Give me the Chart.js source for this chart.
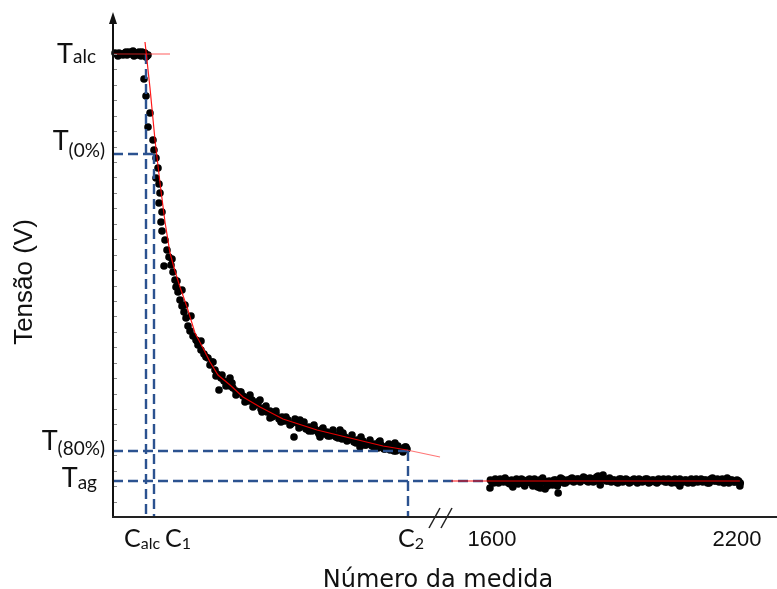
<!DOCTYPE html>
<html>
<head>
<meta charset="utf-8">
<script src="https://cdn.jsdelivr.net/npm/chart.js@4"></script>
<style>
  body { margin: 0; background: #fff; }
  #wrap { width: 777px; height: 589px; position: relative; }
</style>
</head>
<body>
<div id="wrap"><canvas id="tensaoChart"></canvas></div>
<script>
// measurement number (left part, before the axis break) and voltage
const leftX = [4,8,12,16,20,24,28,32,36,40,44,48,52,56,60,64,68,70,66,
  62,66,74,70,80,82,86,90,86,92,94,92,98,96,98,104,108,102,112,116,120,124,126,130,134,138,142,146,150,154,
  160,166,170,176,182,190,194,200,204,208,212,216,222,228,234,240,246,254,260,
  266,272,278,284,290,296,302,308,314,320,326,332,338,344,350,356,362,368,374,380,386,392,398,404,410,
  416,422,428,434,440,446,452,458,464,470,476,482,488,494,500,506,512,518,524,530,536,542,548,554,560,
  566,572,578,584,588,
  294,374,454,534,564,234,274,314,414,494];
const leftY = [4.64,4.63,4.64,4.63,4.62,4.64,4.62,4.65,4.63,4.66,4.64,4.62,4.65,4.61,4.63,4.64,4.61,4.62,4.60,
  4.38,4.21,4.04,3.90,3.77,3.67,3.59,3.49,3.39,3.33,3.24,3.14,3.05,2.95,2.86,2.77,2.67,2.51,2.60,2.52,2.45,2.37,2.30,2.25,2.17,2.11,2.05,1.99,1.91,1.86,
  1.81,1.77,1.72,1.67,1.63,1.59,1.52,1.55,1.47,1.43,1.27,1.39,1.36,1.34,1.31,1.29,1.26,1.25,1.21,
  1.19,1.16,1.17,1.12,1.13,1.08,1.09,1.05,1.06,1.01,1.03,0.98,1.00,0.96,0.97,0.93,0.80,0.94,0.90,0.92,0.88,0.90,0.86,0.88,0.85,
  0.87,0.83,0.85,0.81,0.84,0.80,0.82,0.78,0.80,0.77,0.79,0.75,0.77,0.74,0.76,0.72,0.74,0.71,0.73,0.69,0.72,0.68,0.71,0.67,0.70,
  0.66,0.69,0.67,0.70,0.68,
  1.17,0.97,0.87,0.76,0.74,1.39,1.22,0.99,0.80,0.70];
// second run of readings along the decay (thickens the band)
const leftX2 = [118,128,138,144,156,168,176,186,198,206,218,226,238,246,256,264,272,280,288,298,
  306,318,326,336,346,354,364,372,382,392,402,412,420,430,440,450,460,468,478,486,
  496,504,514,522,532,544,552,562,570,580,586, 10,26,42,58];
const leftY2 = [2.58,2.36,2.27,2.12,2.01,1.76,1.76,1.60,1.55,1.41,1.42,1.31,1.34,1.22,1.25,1.15,1.20,1.10,1.15,1.05,
  1.11,1.00,1.06,0.95,1.00,0.92,0.98,0.89,0.95,0.86,0.92,0.83,0.89,0.81,0.87,0.79,0.84,0.76,0.82,0.74,
  0.80,0.72,0.77,0.70,0.75,0.68,0.73,0.66,0.71,0.65,0.70, 4.61,4.65,4.61,4.65];

// right part, after the break (measures 1600..2200)
const rightX = [1596,1604,1612,1620,1628,1636,1644,1652,1660,1668,1676,1684,1692,1700,1708,1716,1724,1732,1740,1748,
  1756,1764,1772,1780,1788,1796,1804,1812,1820,1828,1836,1844,1852,1860,1868,1876,1884,1892,1900,1908,
  1916,1924,1932,1940,1948,1956,1964,1972,1980,1988,1996,2004,2012,2020,2028,2036,2044,2052,2060,2068,
  2076,2084,2092,2100,2108,2116,2124,2132,2140,2148,2156,2164,2172,2180,2188,2196,2204,
  1595,1651,1700,1718,1730,1762,1865,2060,2207];
const rightY = [0.37,0.34,0.36,0.38,0.35,0.37,0.33,0.36,0.38,0.35,
  0.37,0.34,0.38,0.36,0.33,0.37,0.39,0.35,0.36,0.32,
  0.37,0.35,0.38,0.34,0.36,0.39,0.36,0.38,0.37,0.39,
  0.35,0.38,0.36,0.41,0.38,0.38,0.36,0.35,0.37,0.34,
  0.38,0.36,0.37,0.35,0.38,0.34,0.37,0.36,0.38,0.35,
  0.37,0.34,0.36,0.38,0.35,0.37,0.36,0.34,0.38,0.35,
  0.37,0.36,0.34,0.38,0.36,0.35,0.37,0.34,0.39,0.36,
  0.35,0.38,0.36,0.34,0.37,0.35,0.36,
  0.29,0.30,0.31,0.29,0.28,0.24,0.32,0.31,0.31];
const rightX2 = [1600,1608,1616,1624,1632,1640,1648,1656,1664,1672,1680,1688,1696,1704,1712,1720,1728,1736,1744,1752,
  1760,1768,1776,1784,1792,1800,1808,1816,1824,1832,1840,1848,1856,1864,1872,1880,1888,1896,1904,1912,
  1920,1928,1936,1944,1952,1960,1968,1976,1984,1992,2000,2008,2016,2024,2032,2040,2048,2056,2064,2072,
  2080,2088,2096,2104,2112,2120,2128,2136,2144,2152,2160,2168,2176,2184,2192,2200,2208];
const rightY2 = [0.35,0.38,0.34,0.36,0.39,0.34,0.37,0.35,0.33,0.38,
  0.31,0.37,0.34,0.38,0.30,0.34,0.36,0.31,0.33,0.37,
  0.31,0.39,0.34,0.37,0.38,0.35,0.38,0.35,0.40,0.36,
  0.39,0.35,0.40,0.38,0.42,0.36,0.39,0.37,0.35,0.38,
  0.35,0.38,0.34,0.37,0.36,0.38,0.35,0.38,0.34,0.37,
  0.35,0.38,0.37,0.35,0.38,0.34,0.38,0.37,0.35,0.37,
  0.34,0.38,0.37,0.35,0.38,0.37,0.34,0.38,0.36,0.38,
  0.37,0.34,0.39,0.37,0.35,0.37,0.34];

// fitted curve (red)
const fitX = [64,74,84,94,104,114,124,134,148,164,180,194,210,234,260,294,340,408,474,540,588];
const fitY = [4.75,4.29,3.77,3.34,2.95,2.64,2.46,2.30,2.10,1.84,1.69,1.55,1.42,1.32,1.20,1.10,0.98,0.87,0.79,0.71,0.67];
const fitExtX = [588,654];
const fitExtY = [0.67,0.60];

// reference levels and measure numbers
const T_alc = 4.63, T_0 = 3.63, T_80 = 0.66, T_ag = 0.36;
const C_alc = 66, C_1 = 82, C_2 = 590, tagDashEnd = 740;
const talcLineEnd = 114;
const tagFitX = [1500, 2207];
const breakAt = 654;
const rightTicks = [1600, 2200];
const yMinorStep = T_alc / 30;

const zip = (xs, ys) => xs.map((x, i) => ({ x: x, y: ys[i] }));
const dashBlue = '#2b5290';

function dashed(xs, ys) {
  return { data: zip(xs, ys), showLine: true, borderColor: dashBlue, borderWidth: 2.4,
    borderDash: [10, 5], pointRadius: 0, xAxisID: 'xL', order: 1 };
}
function redLine(xs, ys, color, axis) {
  return { data: zip(xs, ys), showLine: true, borderColor: color, borderWidth: 1.2,
    pointRadius: 0, xAxisID: axis || 'xL', order: 0 };
}
function dots(xs, ys, axis) {
  return { data: zip(xs, ys), pointRadius: 3.8, pointBackgroundColor: '#000', pointBorderWidth: 0,
    xAxisID: axis, order: 2 };
}

function subText(ctx, x, y, main, sub, mainFont, subFont, align, drop) {
  ctx.font = mainFont; const w1 = ctx.measureText(main).width;
  ctx.font = subFont; const w2 = ctx.measureText(sub).width;
  let x0 = x;
  if (align === 'right') x0 = x - w1 - w2;
  if (align === 'center') x0 = x - (w1 + w2) / 2;
  ctx.textAlign = 'left';
  ctx.font = mainFont; ctx.fillText(main, x0, y);
  ctx.font = subFont; ctx.fillText(sub, x0 + w1, y + drop);
}

const axesPlugin = {
  id: 'axesPlugin',
  afterDraw(chart) {
    const ctx = chart.ctx;
    const xL = chart.scales.xL, xR = chart.scales.xR, y = chart.scales.y;
    const x0 = xL.getPixelForValue(0), y0 = y.getPixelForValue(0);
    ctx.save();
    // minor ticks on y
    ctx.strokeStyle = '#8a8a8a'; ctx.lineWidth = 1;
    for (let k = 1; k <= 30; k++) {
      const py = Math.round(y.getPixelForValue(k * yMinorStep)) + 0.5;
      ctx.beginPath(); ctx.moveTo(x0, py); ctx.lineTo(x0 + 4, py); ctx.stroke();
    }
    // axis lines
    ctx.strokeStyle = '#111'; ctx.lineWidth = 2;
    ctx.beginPath(); ctx.moveTo(x0, y0); ctx.lineTo(x0, 22); ctx.stroke();
    ctx.strokeStyle = '#222';
    ctx.beginPath(); ctx.moveTo(x0 - 1, y0); ctx.lineTo(777, y0); ctx.stroke();
    ctx.fillStyle = '#111';
    ctx.beginPath(); ctx.moveTo(x0, 12); ctx.lineTo(x0 - 4, 24); ctx.lineTo(x0 + 4, 24); ctx.closePath(); ctx.fill();
    // break marks
    const bx = xL.getPixelForValue(breakAt);
    ctx.lineWidth = 1.5; ctx.strokeStyle = '#222';
    [-6, 6].forEach(d => {
      ctx.beginPath(); ctx.moveTo(bx + d - 5, y0 + 11); ctx.lineTo(bx + d + 6, y0 - 9); ctx.stroke();
    });

    // y labels
    ctx.fillStyle = '#111'; ctx.textBaseline = 'alphabetic';
    const mF = '27px Lato', sF = '19px Lato';
    subText(ctx, 96, y.getPixelForValue(T_alc) + 9, 'T', 'alc', mF, sF, 'right', 0);
    subText(ctx, 105, y.getPixelForValue(T_0) - 4, 'T', '(0%)', mF, sF, 'right', 7);
    subText(ctx, 105, y.getPixelForValue(T_80) - 1, 'T', '(80%)', mF, sF, 'right', 5);
    subText(ctx, 97, y.getPixelForValue(T_ag) + 6, 'T', 'ag', mF, sF, 'right', 2);

    // x labels
    const xF = '25px Lato', xsF = '16px Lato';
    subText(ctx, 124, y0 + 30, 'C', 'alc', xF, xsF, 'left', 2);
    subText(ctx, 165, y0 + 30, 'C', '1', xF, xsF, 'left', 2);
    subText(ctx, xL.getPixelForValue(C_2) - 10, y0 + 30, 'C', '2', xF, xsF, 'left', 2);
    ctx.font = '22px "Liberation Sans"'; ctx.textAlign = 'center';
    rightTicks.forEach(t => ctx.fillText(String(t), xR.getPixelForValue(t), y0 + 29));

    // axis titles
    ctx.font = '24px "DejaVu Sans"'; ctx.textAlign = 'center';
    ctx.fillText('Número da medida', 438, 587);
    ctx.save();
    ctx.translate(32, 282); ctx.rotate(-Math.PI / 2);
    ctx.font = '26px "Liberation Sans"';
    ctx.fillText('Tensão (V)', 0, 0);
    ctx.restore();
    ctx.restore();
  }
};

new Chart(document.getElementById('tensaoChart').getContext('2d'), {
  type: 'scatter',
  data: {
    datasets: [
      redLine(fitX, fitY, 'rgba(255,0,0,0.9)'),
      redLine(fitExtX, fitExtY, 'rgba(255,60,60,0.7)'),
      redLine([0, talcLineEnd], [T_alc, T_alc], 'rgba(255,40,40,0.75)'),
      redLine(tagFitX, [T_ag, T_ag], 'rgba(255,0,0,0.95)', 'xR'),
      dashed([0, C_1], [T_0, T_0]),
      dashed([C_alc, C_alc], [T_alc, 0]),
      dashed([C_1, C_1], [T_0, 0]),
      dashed([0, C_2], [T_80, T_80]),
      dashed([C_2, C_2], [T_80, 0]),
      dashed([0, tagDashEnd], [T_ag, T_ag]),
      dots(leftX, leftY, 'xL'),
      dots(leftX2, leftY2, 'xL'),
      dots(rightX, rightY, 'xR'),
      dots(rightX2, rightY2, 'xR')
    ]
  },
  options: {
    responsive: true,
    maintainAspectRatio: false,
    animation: false,
    clip: false,
    layout: { padding: { left: 113, right: 7, top: 15, bottom: 72 } },
    plugins: { legend: { display: false }, tooltip: { enabled: false } },
    scales: {
      xL: { type: 'linear', display: false, min: 0, max: 1314 },
      xR: { type: 'linear', display: false, min: 671.8, max: 2280.8 },
      y: { type: 'linear', display: false, min: 0, max: 5.02 }
    }
  },
  plugins: [axesPlugin]
});
</script>
</body>
</html>
